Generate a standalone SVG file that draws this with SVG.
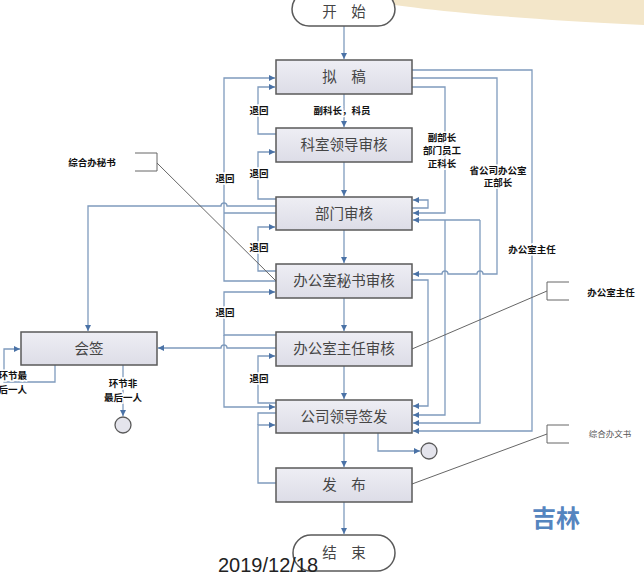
<svg xmlns="http://www.w3.org/2000/svg" width="644" height="576" viewBox="0 0 644 576">
<defs>
<linearGradient id="bx" x1="0" y1="0" x2="0" y2="1">
<stop offset="0" stop-color="#eeeef4"/>
<stop offset="1" stop-color="#dddde7"/>
</linearGradient>
<marker id="ar" markerUnits="userSpaceOnUse" markerWidth="7" markerHeight="7" refX="6" refY="3" orient="auto">
<path d="M0,0 L6,3 L0,6 z" fill="#4a72a6"/>
</marker>
<style>
.box{fill:url(#bx);stroke:#5a5a5a;stroke-width:1.5}
.term{fill:#ffffff;stroke:#5a5a5a;stroke-width:1.5}
.bt{font-family:"Noto Sans CJK SC","Noto Sans",sans-serif;font-size:14.5px;fill:#454545;text-anchor:middle}
.c{fill:none;stroke:#7f9bbd;stroke-width:1.3}
.ca{fill:none;stroke:#7f9bbd;stroke-width:1.3;marker-end:url(#ar)}
.d{fill:none;stroke:#666;stroke-width:1}
.lb{font-family:"Noto Sans CJK SC","Noto Sans",sans-serif;font-size:9.5px;font-weight:bold;fill:#111;text-anchor:middle;paint-order:stroke;stroke:#fff;stroke-width:3px}
.circ{fill:#e4e4ec;stroke:#5a5a5a;stroke-width:1.3}
</style>
</defs>
<rect width="644" height="576" fill="#ffffff"/>
<path d="M362 0 C400 6 460 16 644 25 L644 0 Z" fill="#f3e6c9"/>

<g id="connectors">
<path class="ca" d="M344 26 V59"/>
<path class="ca" d="M344 94 V127"/>
<path class="ca" d="M344 162 V196"/>
<path class="ca" d="M344 230 V263"/>
<path class="ca" d="M344 298 V331"/>
<path class="ca" d="M344 366 V399"/>
<path class="ca" d="M344 433 V467"/>
<path class="ca" d="M344 502 V534"/>
<!-- inner left returns -->
<path class="ca" d="M276 134 H258 V87 H275"/>
<path class="ca" d="M276 199 H258 V152 H275"/>
<path class="ca" d="M276 271 H258 V227 H275"/>
<path class="ca" d="M276 403 H258 V356 H275"/>
<path class="ca" d="M276 483 H258 V425 H275"/>
<path class="c" d="M258 425 V413 H276"/>
<!-- outer left returns -->
<path class="ca" d="M276 281 H224 V78 H275"/>
<path class="c" d="M276 213 H224"/>
<path class="ca" d="M276 335 H224 V292 H275"/>
<path class="ca" d="M224 335 V407 H275"/>
<!-- to 会签 -->
<path class="ca" d="M276 206 H227 a3 3 0 0 0 -6 0 H88 V331"/>
<path class="ca" d="M276 348 H227 a3 3 0 0 0 -6 0 H158"/>
<path class="ca" d="M55 365 V382 H4 V349 H20"/>
<path class="ca" d="M123 365 V416"/>
<!-- right side -->
<path class="ca" d="M412 70 H532 V431 H413"/>
<path class="ca" d="M412 78 H497 V274 H483 a3 3 0 0 0 -6 0 H448 a3 3 0 0 0 -6 0 H413"/>
<path class="ca" d="M412 87 H445 V213 H413"/>
<path class="ca" d="M412 208 H428 V200 H413"/>
<path class="ca" d="M480 220 H413"/>
<path class="ca" d="M480 220 V423 H413"/>
<path class="ca" d="M445 220 V415 H413"/>
<path class="ca" d="M412 280 H428 V406 H413"/>
<path class="ca" d="M378 433 V451 H420"/>
<!-- annotation lines -->
<path class="d" d="M135 153 H157 V171 H135"/>
<path class="d" d="M157 163 L276 281"/>
<path class="d" d="M569 282 H547 V300 H569"/>
<path class="d" d="M547 291 L412 349"/>
<path class="d" d="M569 425 H547 V443 H569"/>
<path class="d" d="M547 434 L412 484"/>
</g>

<g id="labels">
<text class="lb" x="342" y="113.5">副科长，科员</text>
<text class="lb" x="259" y="113.5">退回</text>
<text class="lb" x="259" y="176.5">退回</text>
<text class="lb" x="259" y="250.5">退回</text>
<text class="lb" x="225" y="181.5">退回</text>
<text class="lb" x="225" y="315.5">退回</text>
<text class="lb" x="259" y="381.5">退回</text>
<text class="lb" x="442" y="140.5">副部长</text>
<text class="lb" x="442" y="153.5">部门员工</text>
<text class="lb" x="442" y="166.5">正科长</text>
<text class="lb" x="498" y="173.5">省公司办公室</text>
<text class="lb" x="498" y="186">正部长</text>
<text class="lb" x="532" y="252.5">办公室主任</text>
<text class="lb" x="123" y="386.5">环节非</text>
<text class="lb" x="123" y="401">最后一人</text>
<text class="lb" x="27" y="378.5" style="text-anchor:end">环节最</text>
<text class="lb" x="27" y="392.5" style="text-anchor:end">后一人</text>
<text class="lb" x="92" y="165.5">综合办秘书</text>
<text class="lb" x="611" y="295.5">办公室主任</text>
<text x="610" y="437" style="font-family:'Noto Sans CJK SC',sans-serif;font-size:8.5px;fill:#555;text-anchor:middle">综合办文书</text>
</g>

<g id="start"><rect class="term" x="292" y="-8" width="103" height="34" rx="17"/><text class="bt" x="344" y="17">开　始</text></g>
<g id="nigao"><rect class="box" x="276" y="60" width="136" height="34"/><text class="bt" x="344" y="82">拟　稿</text></g>
<g id="keshi"><rect class="box" x="276" y="128" width="136" height="34"/><text class="bt" x="344" y="150">科室领导审核</text></g>
<g id="bumen"><rect class="box" x="276" y="197" width="136" height="33"/><text class="bt" x="344" y="218.5">部门审核</text></g>
<g id="mishu"><rect class="box" x="276" y="264" width="136" height="34"/><text class="bt" x="344" y="286">办公室秘书审核</text></g>
<g id="zhuren"><rect class="box" x="276" y="332" width="136" height="34"/><text class="bt" x="344" y="354">办公室主任审核</text></g>
<g id="qianfa"><rect class="box" x="276" y="400" width="136" height="33"/><text class="bt" x="344" y="421.5">公司领导签发</text></g>
<g id="fabu"><rect class="box" x="276" y="468" width="136" height="34"/><text class="bt" x="344" y="490">发　布</text></g>
<g id="huiqian"><rect class="box" x="21" y="332" width="136" height="33"/><text class="bt" x="89" y="353.5">会签</text></g>
<g id="end"><rect class="term" x="293" y="535" width="102" height="36" rx="18"/><text class="bt" x="344" y="558">结　束</text></g>
<g id="circle1"><circle class="circ" cx="123" cy="425" r="8"/></g>
<g id="circle2"><circle class="circ" cx="429" cy="451" r="8"/></g>

<text x="556" y="527" style="font-family:'Noto Sans CJK SC',sans-serif;font-size:24px;font-weight:bold;fill:#5585bf;text-anchor:middle">吉林</text>
<text x="218" y="572" style="font-family:'Liberation Sans',Arial,sans-serif;font-size:20px;fill:#222">2019/12/18</text>
</svg>
